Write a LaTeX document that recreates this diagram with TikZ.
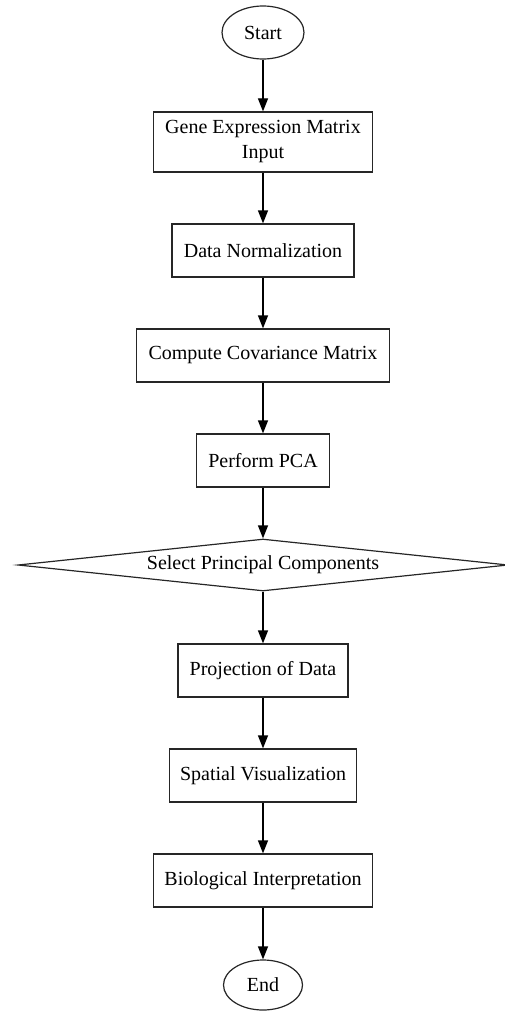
\documentclass[tikz,border=0pt]{standalone}
\usepackage{fontspec}
\setmainfont{Liberation Serif}
\usetikzlibrary{shapes.geometric,arrows.meta}
\begin{document}
\begin{tikzpicture}[x=1pt,y=-1pt,
  every node/.style={font=\fontsize{20}{25}\selectfont, line width=1.2pt, draw=black!85},
  procbox/.style={rectangle, minimum height=53pt, inner xsep=10pt, align=center},
  term/.style={ellipse, inner sep=0pt},
  decide/.style={diamond, inner sep=0pt, shape aspect=9.4, minimum width=490pt, minimum height=52pt},
  flow/.style={line width=1.2pt, -{Triangle[length=13pt,width=10pt]}}]
\useasboundingbox (0,0) rectangle (504,1011);
\node[term, minimum width=82pt, minimum height=53pt] (start) at (263,32.5) {Start};
\node[procbox, minimum width=219pt, minimum height=60pt] (gene) at (263,142) {Gene Expression Matrix\\Input};
\node[procbox, minimum width=182pt] (norm) at (263,250.5) {Data Normalization};
\node[procbox, minimum width=253pt] (cov) at (263,355.5) {Compute Covariance Matrix};
\node[procbox, minimum width=133pt] (pca) at (263,460.5) {Perform PCA};
\node[decide] (sel) at (263,565) {Select Principal Components};
\node[procbox, minimum width=170pt] (proj) at (263,670.5) {Projection of Data};
\node[procbox, minimum width=187pt] (spat) at (263,775.5) {Spatial Visualization};
\node[procbox, minimum width=219pt] (bio) at (263,880.5) {Biological Interpretation};
\node[term, minimum width=79pt, minimum height=50pt] (end) at (263,985) {End};
\draw[flow] (start) -- (gene);
\draw[flow] (gene) -- (norm);
\draw[flow] (norm) -- (cov);
\draw[flow] (cov) -- (pca);
\draw[flow] (pca) -- (sel);
\draw[flow] (sel) -- (proj);
\draw[flow] (proj) -- (spat);
\draw[flow] (spat) -- (bio);
\draw[flow] (bio) -- (end);
\end{tikzpicture}
\end{document}
